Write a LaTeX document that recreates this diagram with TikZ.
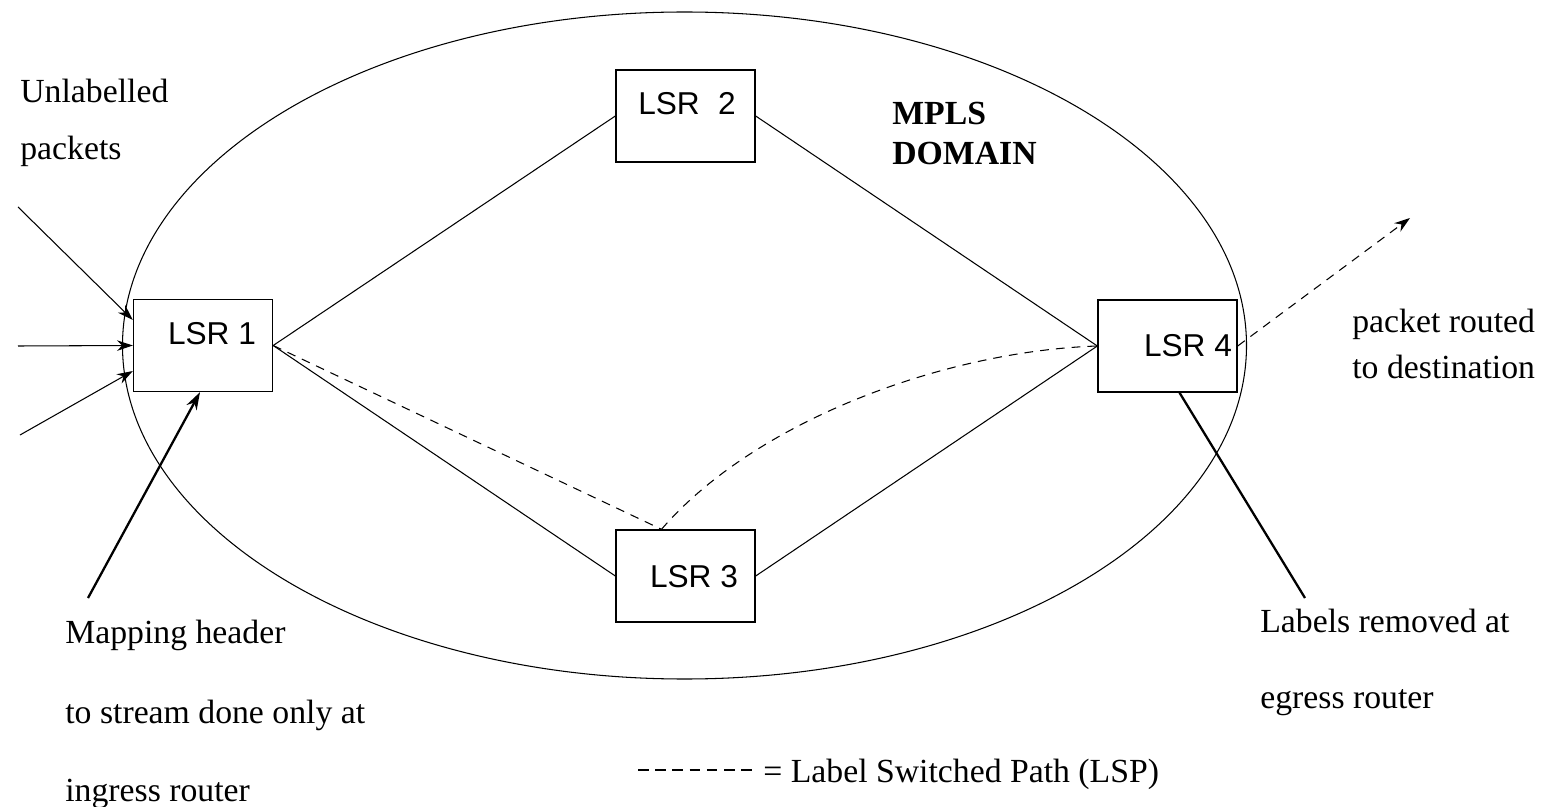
\documentclass[tikz,border=0pt]{standalone}
\usepackage{fontspec}
\setmainfont{Liberation Serif}
\newfontfamily\lsrfont{Liberation Sans}
\usetikzlibrary{arrows.meta,calc}
\begin{document}
\begin{tikzpicture}[x=0.02cm,y=-0.02cm,
  lsrbox/.style={draw,line width=0.8pt,minimum width=2.78cm,minimum height=1.84cm,inner sep=0pt},
  lsrtext/.style={font=\lsrfont\fontsize{18}{20}\selectfont,inner sep=0pt,anchor=base},
  txt/.style={font=\fontsize{19.2}{22}\selectfont,inner sep=0pt,anchor=base west},
  conn/.style={line width=0.6pt},
  lsp/.style={line width=0.6pt,dash pattern=on 5pt off 4pt},
  arr/.style={line width=0.6pt,-{Stealth[length=9pt,width=6pt]}},
  thickarr/.style={line width=1.3pt,-{Stealth[length=10pt,width=6.5pt]}}]
\useasboundingbox (0,0) rectangle (1541,807);
\fill[white] (0,0) rectangle (1541,807);

% MPLS domain
\draw[line width=0.6pt] (684.5,345.5) ellipse [x radius=562, y radius=333.5];

% routers
\node[lsrbox] (lsr1) at (203,345.5) {};
\node[lsrbox] (lsr2) at (685.5,116) {};
\node[lsrbox] (lsr3) at (685.5,576) {};
\node[lsrbox] (lsr4) at (1167.5,346) {};
\node[lsrtext] (t1) at (212,345) {LSR 1};
\node[lsrtext] (t2) at (687,115) {LSR\hspace{0.3em} 2};
\node[lsrtext] (t3) at (694,587) {LSR 3};
\node[lsrtext] (t4) at (1188,357) {LSR 4};

% links
\draw[conn] (lsr1.east) -- (lsr2.west);
\draw[conn] (lsr2.east) -- (lsr4.west);
\draw[conn] (lsr1.east) -- (lsr3.west);
\draw[conn] (lsr3.east) -- (lsr4.west);

% label switched path
\coordinate (lspmid) at ($(lsr3.north)+(-24,0)$);
\draw[lsp] (lsr1.east) -- (lspmid);
\draw[lsp] (lspmid) .. controls +(95,-110) and +(-150,5) .. (lsr4.west);
\coordinate (out) at (1410,218);
\draw[lsp,-{Stealth[length=9pt,width=6pt]}] (lsr4.east) -- (out);

% incoming packets
\coordinate (in1) at (18,207);
\coordinate (in2) at (18,346);
\coordinate (in3) at (20,435);
\draw[arr] (in1) -- (lsr1.160);
\draw[arr] (in2) -- (lsr1.west);
\draw[arr] (in3) -- (lsr1.200);

% annotation pointers
\coordinate (mapc) at (88,598);
\draw[thickarr] (mapc) -- ($(lsr1.south)+(-3,0)$);
\coordinate (remc) at (1305,598);
\draw[line width=1.3pt] (remc) -- ($(lsr4.south)+(12,0)$);

% texts
\node[txt] (unl1) at (20,103) {Unlabelled};
\node[txt] (unl2) at (20,160) {packets};
\node[txt,font=\bfseries\fontsize{19.2}{22}\selectfont] (mpls1) at (892,125) {MPLS};
\node[txt,font=\bfseries\fontsize{19.2}{22}\selectfont] (mpls2) at (892,165) {DOMAIN};
\node[txt] (pr1) at (1352,333) {packet routed};
\node[txt] (pr2) at (1352,378) {to destination};
\node[txt] (mh1) at (65,643) {Mapping header};
\node[txt] (mh2) at (65,723) {to stream done only at};
\node[txt] (mh3) at (65,801) {ingress router};
\node[txt] (lr1) at (1260,632) {Labels removed at};
\node[txt] (lr2) at (1260,708) {egress router};

% legend
\coordinate (lega) at (638,770);
\coordinate (legb) at (757,770);
\draw[line width=0.8pt,dash pattern=on 6pt off 3.8pt] (lega) -- (legb);
\node[txt] (legt) at (763,782) {= Label Switched Path (LSP)};
\end{tikzpicture}
\end{document}
